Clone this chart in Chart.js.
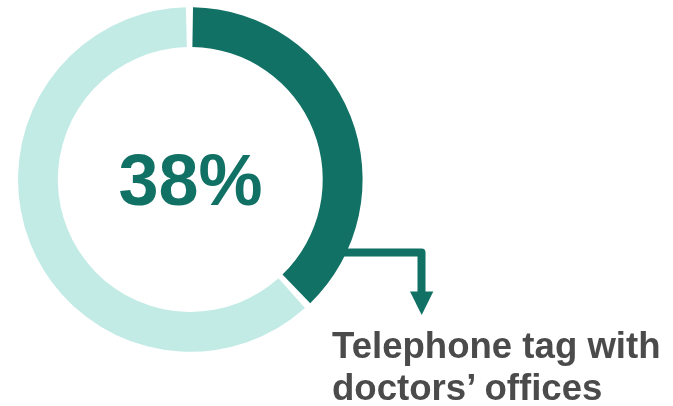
<!DOCTYPE html>
<html>
<head>
<meta charset="utf-8">
<script src="https://cdn.jsdelivr.net/npm/chart.js@4/dist/chart.umd.min.js"></script>
<style>
  html, body { margin: 0; padding: 0; background: #ffffff; }
  #wrap { position: relative; width: 673px; height: 406px; overflow: hidden; }
  #chart { position: absolute; left: 0; top: 0; }
  .big {
    position: absolute; left: 90px; width: 201px; top: 143.5px;
    text-align: center; font: bold 72px/72px "Liberation Sans", Arial, sans-serif;
    color: #117165; white-space: nowrap;
  }
  .label {
    position: absolute; left: 332px; top: 325px;
    font: bold 36.6px/42px "Liberation Sans", Arial, sans-serif;
    color: #4b4b4b; white-space: nowrap;
  }
</style>
</head>
<body>
<div id="wrap">
  <canvas id="chart" width="673" height="406"></canvas>
  <div class="big" id="big"></div>
  <div class="label">Telephone tag with<br>doctors’ offices</div>
</div>
<script>
// Share of respondents: highlighted answer vs. everyone else
const categories = ['Telephone tag with doctors’ offices', 'Other'];
const shares = [38, 62];
const sliceColors = ['#117165', '#c3ebe6'];
const DARK = '#117165';

document.getElementById('big').textContent = shares[0] + '%';

// Elbow arrow leading from the highlighted slice down to its caption
const calloutArrow = {
  id: 'calloutArrow',
  beforeDatasetsDraw(chart) {
    const ctx = chart.ctx;
    ctx.save();
    ctx.strokeStyle = DARK;
    ctx.fillStyle = DARK;
    ctx.lineWidth = 8;
    ctx.lineJoin = 'round';
    ctx.beginPath();
    ctx.moveTo(320, 252.5);
    ctx.lineTo(421.5, 252.5);
    ctx.lineTo(421.5, 293);
    ctx.stroke();
    ctx.beginPath();
    ctx.moveTo(410, 291.5);
    ctx.lineTo(433.3, 291.5);
    ctx.lineTo(421.7, 315);
    ctx.closePath();
    ctx.fill();
    ctx.restore();
  }
};

new Chart(document.getElementById('chart'), {
  type: 'doughnut',
  data: {
    labels: categories,
    datasets: [{
      data: shares,
      backgroundColor: sliceColors,
      borderWidth: 0,
      spacing: 4
    }]
  },
  options: {
    responsive: false,
    animation: false,
    cutout: '76.6%',
    layout: { padding: { left: 18, top: 7.2, right: 310.4, bottom: 54.2 } },
    plugins: {
      legend: { display: false },
      tooltip: { enabled: false }
    }
  },
  plugins: [calloutArrow]
});
</script>
</body>
</html>
